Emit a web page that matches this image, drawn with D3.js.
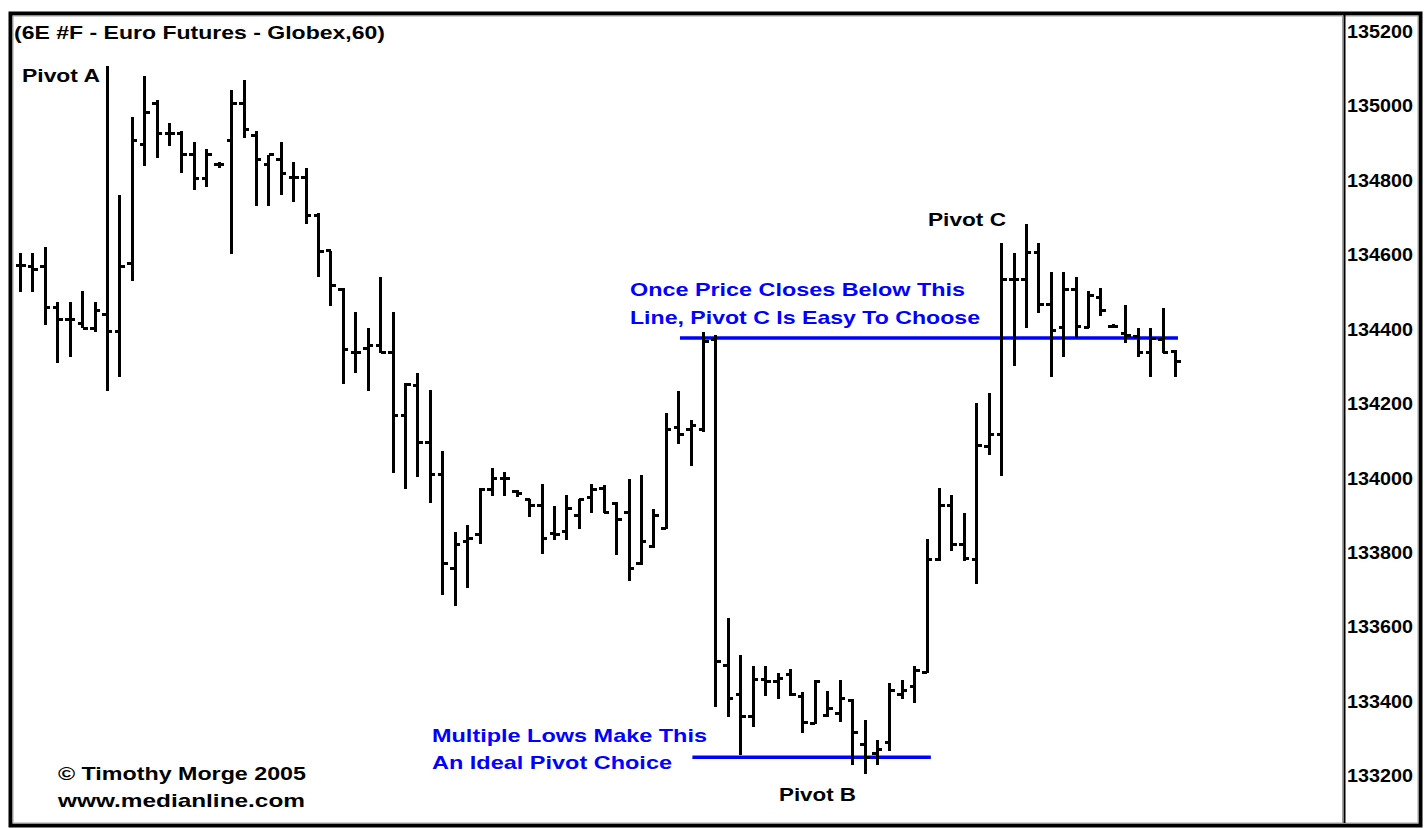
<!DOCTYPE html>
<html>
<head>
<meta charset="utf-8">
<script src="https://cdn.jsdelivr.net/npm/d3@7/dist/d3.min.js"></script>
<style>
  body { margin: 0; background: #fff; }
  svg { display: block; }
  text { font-family: "Liberation Sans", Arial, sans-serif; font-weight: bold; }
</style>
</head>
<body>
<svg id="chart" width="1425" height="828"></svg>
<script>
'use strict';

// hourly OHLC bars, euro futures (price in ticks)
var barHigh = [
  134602,134602,134619,134471,134471,134501,134471,135105,134758,134968,
  135078,135012,134951,134931,134901,134881,134848,135040,135067,134931,
  134866,134901,134848,134831,134709,134608,134507,134443,134400,134539,
  134443,134252,134279,134234,134071,133852,133872,133970,134024,134013,
  133966,133941,133981,133923,133952,133941,133981,133979,133934,133994,
  134006,133914,134172,134232,134154,134391,134382,133623,133522,133493,
  133493,133475,133484,133424,133455,133426,133455,133403,133347,133295,
  133446,133455,133494,133833,133972,133952,133905,134200,134225,134628,
  134601,134680,134628,134552,134552,134539,134500,134509,134412,134463,
  134402,134401,134454,134342
];
var barLow = [
  134498,134498,134409,134308,134324,134400,134391,134232,134270,134528,
  134836,134857,134891,134818,134772,134780,134830,134600,134910,134729,
  134729,134758,134738,134680,134538,134461,134250,134279,134232,134333,
  134012,133968,134001,133932,133684,133654,133702,133821,133949,133949,
  133946,133892,133793,133831,133831,133860,133903,133903,133791,133721,
  133764,133811,133860,134088,134030,134122,133383,133355,133254,133328,
  133412,133403,133412,133312,133337,133357,133343,133227,133203,133227,
  133265,133403,133393,133475,133776,133803,133776,133713,134060,134003,
  134299,134400,134442,134270,134324,134373,134400,134433,134400,134360,
  134324,134270,134333,134270
];
var barOpen = [
  134568,134566,134566,134456,134424,134413,134400,134436,134391,134575,
  134895,135004,134922,134922,134868,134803,134841,134904,135004,134919,
  134841,134854,134806,134804,134704,134608,134503,134336,134346,134355,
  134336,134165,134245,134093,134006,133755,133827,133845,133966,133997,
  133961,133939,133925,133849,133854,133896,133946,133970,133930,133905,
  133769,133815,133863,134134,134129,134127,134369,133495,133415,133358,
  133457,133451,133469,133410,133339,133361,133366,133401,133281,133259,
  133287,133415,133439,133475,133778,133925,133818,133779,134082,134116,
  134530,134530,134603,134463,134403,134503,134403,134483,134406,134385,
  134377,134334,134370,134337
];
var barClose = [
  134568,134559,134456,134424,134424,134400,134447,134391,134566,134904,
  134980,134922,134922,134868,134803,134868,134841,135004,134933,134854,
  134866,134815,134806,134704,134605,134514,134344,134336,134353,134336,
  134165,134248,134093,134006,133769,133818,133836,133967,133997,133997,
  133957,133925,133836,133845,133916,133939,133968,133905,133887,133755,
  133827,133898,134127,134116,134138,134364,133504,133406,133357,133457,
  133451,133460,133415,133340,133451,133379,133406,133314,133248,133268,
  133428,133428,133480,133778,133925,133818,133782,134084,134116,134530,
  134530,134603,134465,134394,134503,134404,134487,134447,134406,134382,
  134334,134373,134334,134312
];

var yTicks = [135200,135000,134800,134600,134400,134200,134000,133800,133600,133400,133200];

// horizontal pivot lines: price level and first/last bar index they span
var lineLevels = [134374, 133248];
var lineFrom   = [53.1, 54.1];
var lineTo     = [93.2, 73.3];

var titleText  = "(6E #F - Euro Futures - Globex,60)";
var pivotNames = ["Pivot A", "Pivot B", "Pivot C"];
var noteLines  = ["Once Price Closes Below This", "Line, Pivot C Is Easy To Choose",
                  "Multiple Lows Make This", "An Ideal Pivot Choice"];
var creditLines = ["\u00a9 Timothy Morge 2005", "www.medianline.com"];

var bars = barHigh.map(function(h, i) {
  return { i: i, high: h, low: barLow[i], open: barOpen[i], close: barClose[i] };
});

var svg = d3.select("#chart");

var x = d3.scaleLinear().domain([0, bars.length - 1]).range([20.5, 1175.5]);
var y = d3.scaleLinear().domain([133200, 135200]).range([775, 30.5]);

svg.append("rect").attr("width", 1425).attr("height", 828).attr("fill", "#fff");

// frame + price scale divider
svg.append("rect")
  .attr("x", 10.5).attr("y", 13.5).attr("width", 1410).attr("height", 812)
  .attr("fill", "none").attr("stroke", "#000").attr("stroke-width", 4);
svg.append("rect")
  .attr("x", 13).attr("y", 16).attr("width", 1405).attr("height", 807)
  .attr("fill", "none").attr("stroke", "#a0a0a0").attr("stroke-width", 1);
svg.append("line")
  .attr("x1", 1342.5).attr("x2", 1342.5).attr("y1", 15).attr("y2", 823)
  .attr("stroke", "#a0a0a0").attr("stroke-width", 1);
svg.append("line")
  .attr("x1", 1344.5).attr("x2", 1344.5).attr("y1", 15).attr("y2", 823)
  .attr("stroke", "#000").attr("stroke-width", 2);

// price axis on the right
var yAxis = d3.axisRight(y).tickValues(yTicks).tickSize(0).tickPadding(0)
  .tickFormat(d3.format("d"));
var axisG = svg.append("g").attr("transform", "translate(1347,0)").call(yAxis);
axisG.select(".domain").remove();
axisG.selectAll("text")
  .attr("x", 0)
  .attr("dy", "0.36em")
  .style("font-family", "'Liberation Sans', Arial, sans-serif")
  .style("font-weight", "bold")
  .style("font-size", "19px")
  .attr("fill", "#000")
  .attr("textLength", 66)
  .attr("lengthAdjust", "spacingAndGlyphs");

// pivot lines (drawn under the bars)
var lines = lineLevels.map(function(v, k) { return { v: v, a: lineFrom[k], b: lineTo[k] }; });
svg.append("g").selectAll("line").data(lines).join("line")
  .attr("x1", function(d) { return x(d.a); })
  .attr("x2", function(d) { return x(d.b); })
  .attr("y1", function(d) { return y(d.v); })
  .attr("y2", function(d) { return y(d.v); })
  .attr("stroke", "#0000ff")
  .attr("stroke-width", 3.5);

// OHLC bars
var barG = svg.append("g").attr("stroke", "#000").attr("shape-rendering", "crispEdges");
var bar = barG.selectAll("g").data(bars).join("g");
bar.append("line")
  .attr("x1", function(d) { return x(d.i); })
  .attr("x2", function(d) { return x(d.i); })
  .attr("y1", function(d) { return y(d.high); })
  .attr("y2", function(d) { return y(d.low); })
  .attr("stroke-width", 3);
bar.append("line")
  .attr("x1", function(d) { return x(d.i) - 5; })
  .attr("x2", function(d) { return x(d.i); })
  .attr("y1", function(d) { return y(d.open); })
  .attr("y2", function(d) { return y(d.open); })
  .attr("stroke-width", 3);
bar.append("line")
  .attr("x1", function(d) { return x(d.i); })
  .attr("x2", function(d) { return x(d.i) + 5; })
  .attr("y1", function(d) { return y(d.close); })
  .attr("y2", function(d) { return y(d.close); })
  .attr("stroke-width", 3);

// texts
function label(txt, tx, ty, len, size, color) {
  svg.append("text")
    .attr("x", tx).attr("y", ty)
    .attr("textLength", len).attr("lengthAdjust", "spacingAndGlyphs")
    .style("font-size", size + "px")
    .attr("fill", color)
    .text(txt);
}

label(titleText, 14, 39, 371, 19, "#000");
label(pivotNames[0], 22, 82, 78, 19, "#000");
label(pivotNames[1], 779, 801, 77, 19, "#000");
label(pivotNames[2], 928, 226, 78, 19, "#000");

label(noteLines[0], 630, 296, 335, 19, "#0000ff");
label(noteLines[1], 630, 324, 350, 19, "#0000ff");
label(noteLines[2], 432, 742, 275, 19, "#0000ff");
label(noteLines[3], 432, 769, 240, 19, "#0000ff");

label(creditLines[0], 58, 780, 248, 19, "#000");
label(creditLines[1], 58, 807, 247, 19, "#000");
</script>
</body>
</html>
